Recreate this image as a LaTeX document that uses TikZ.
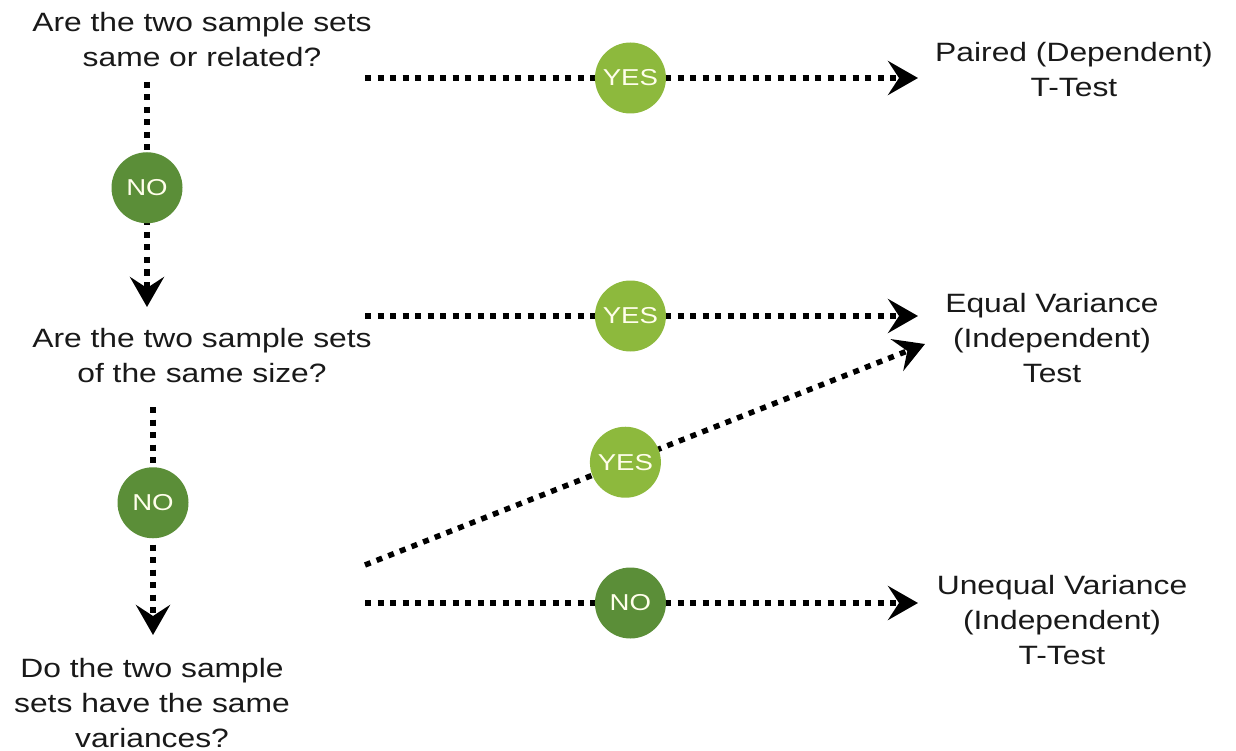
\documentclass[tikz,border=0pt]{standalone}
\usepackage{fontspec}
\setmainfont{Liberation Sans}[FakeStretch=1.2]
\usetikzlibrary{arrows.meta}
\definecolor{yesgreen}{RGB}{141,185,61}
\definecolor{nogreen}{RGB}{91,142,56}
\definecolor{ink}{RGB}{25,25,25}
\tikzset{
  txt/.style={align=center, text=ink, font=\fontsize{26.5}{35}\selectfont, inner sep=0pt},
  flow/.style={line width=5.5pt, dash pattern=on 6pt off 6.5pt, draw=black,
    -{Stealth[length=30pt,width=34pt,inset=11pt]}},
  badge/.style={circle, minimum size=71pt, inner sep=0pt, text=white!92!yellow,
    font=\fontsize{23}{23}\selectfont, solid},
  yes/.style={badge, fill=yesgreen},
  no/.style={badge, fill=nogreen},
}
\begin{document}
\begin{tikzpicture}[x=1pt,y=-1pt]
\useasboundingbox (0,0) rectangle (1236,751);
% question nodes
\node[txt] (q1) at (202,40) {Are the two sample sets\\same or related?};
\node[txt] (q2) at (202,356) {Are the two sample sets\\of the same size?};
\node[txt] (q3) at (152,703) {Do the two sample\\sets have the same\\variances?};
% result nodes
\node[txt] (r1) at (1074,70) {Paired (Dependent)\\T-Test};
\node[txt] (r2) at (1052,338) {Equal Variance\\(Independent)\\Test};
\node[txt] (r3) at (1062,620) {Unequal Variance\\(Independent)\\T-Test};
% connector end points
\coordinate (s1) at (365,78);
\coordinate (e1) at (918,78);
\coordinate (d1s) at (147,82);
\coordinate (d1e) at (147,307);
\coordinate (s2) at (365,316);
\coordinate (e2) at (918,316);
\coordinate (d2s) at (153,407);
\coordinate (d2e) at (153,635);
\coordinate (s3) at (365,565);
\coordinate (e3) at (925,344);
\coordinate (s4) at (365,603);
\coordinate (e4) at (918,603);
% connectors with badges
\draw[flow] (s1) -- node[pos=0.48, yes] (y1) {YES} (e1);
\draw[flow] (d1s) -- node[pos=0.47, no] (n1) {NO} (d1e);
\draw[flow] (s2) -- node[pos=0.48, yes] (y2) {YES} (e2);
\draw[flow] (d2s) -- node[pos=0.42, no] (n2) {NO} (d2e);
\draw[flow] (s3) -- node[pos=0.465, yes] (y3) {YES} (e3);
\draw[flow] (s4) -- node[pos=0.48, no] (n3) {NO} (e4);
\end{tikzpicture}
\end{document}
